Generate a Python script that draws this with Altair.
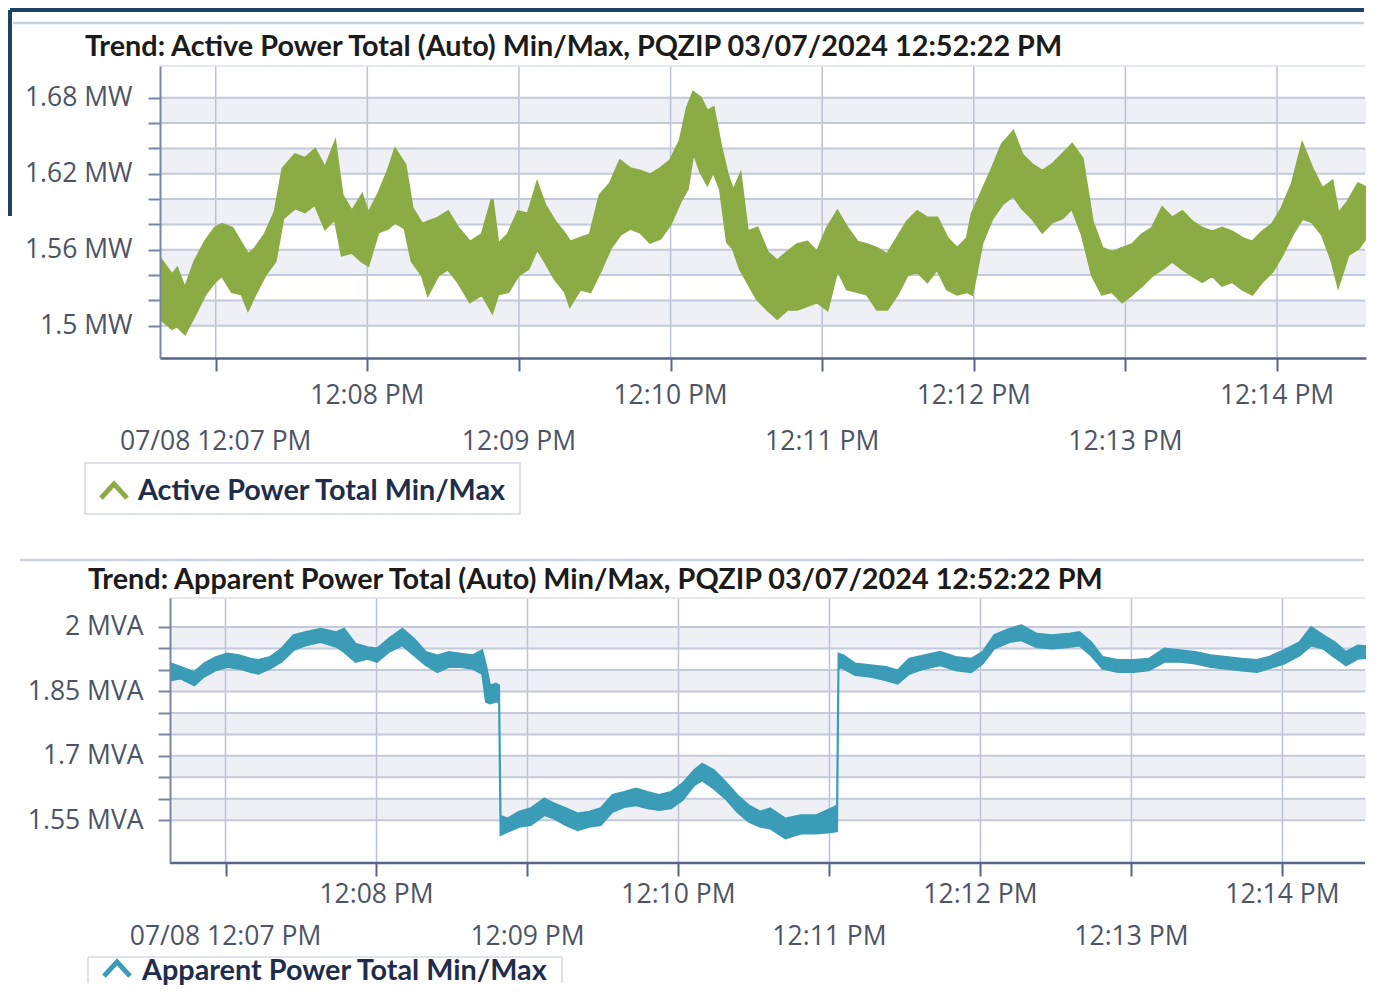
import altair as alt
import pandas as pd

# ------------------------------------------------------------------ texts
TITLE_TOP = "Trend: Active Power Total (Auto) Min/Max, PQZIP 03/07/2024 12:52:22 PM"
TITLE_BOT = "Trend: Apparent Power Total (Auto) Min/Max, PQZIP 03/07/2024 12:52:22 PM"
LEGEND_TOP = "Active Power Total Min/Max"
LEGEND_BOT = "Apparent Power Total Min/Max"

# ------------------------------------------------------------------ x ticks (seconds after 12:07:00 PM)
tick_secs = [0, 60, 120, 180, 240, 300, 360, 420]
tick_labels = ["07/08 12:07 PM", "12:08 PM", "12:09 PM", "12:10 PM",
               "12:11 PM", "12:12 PM", "12:13 PM", "12:14 PM"]
tick_rows = ["lower", "upper", "lower", "upper", "lower", "upper", "lower", "upper"]

# ------------------------------------------------------------------ active power (MW), min/max envelope
top_t = [-22.0, -17.3, -15.3, -12.2, -8.2, -4.2, -0.3, 2.5, 6.5, 10.4,
         12.8, 15.6, 19.5, 23.5, 26.6, 31.4, 35.3, 39.3, 43.3, 47.2,
         50.0, 53.9, 57.9, 60.3, 64.2, 68.2, 71.0, 74.9, 77.7, 81.7,
         84.0, 88.0, 91.9, 95.9, 100.6, 105.4, 109.4, 111.7, 115.7, 119.7,
         123.6, 127.2, 130.3, 134.3, 138.3, 140.2, 144.2, 148.2, 152.1, 156.1,
         160.0, 164.0, 168.0, 171.9, 175.9, 179.8, 183.8, 186.6, 189.0, 191.8,
         194.5, 196.9, 199.7, 202.5, 204.8, 207.6, 210.4, 214.3, 218.3, 222.2,
         226.2, 230.1, 234.1, 238.0, 242.0, 246.0, 249.9, 253.9, 257.8, 261.8,
         265.7, 269.7, 273.6, 277.6, 281.6, 285.5, 289.5, 293.4, 297.4, 299.3,
         303.3, 307.3, 311.2, 315.6, 319.1, 323.1, 327.1, 331.0, 335.0, 338.9,
         342.9, 346.9, 350.8, 354.8, 358.7, 362.7, 366.6, 370.6, 374.6, 378.5,
         382.5, 386.4, 390.4, 394.3, 398.3, 402.3, 406.2, 410.2, 414.1, 418.1,
         422.0, 426.0, 430.0, 433.9, 437.9, 441.8, 444.2, 448.1, 452.1, 456.1,
         459.2]
top_max = [1.553, 1.540, 1.545, 1.529, 1.551, 1.566, 1.577, 1.580, 1.577, 1.564,
           1.556, 1.561, 1.572, 1.590, 1.624, 1.635, 1.632, 1.639, 1.624, 1.644,
           1.603, 1.590, 1.603, 1.588, 1.603, 1.622, 1.639, 1.627, 1.593, 1.580,
           1.582, 1.585, 1.590, 1.577, 1.566, 1.572, 1.600, 1.564, 1.572, 1.590,
           1.588, 1.612, 1.595, 1.582, 1.572, 1.566, 1.569, 1.572, 1.603, 1.612,
           1.630, 1.624, 1.622, 1.619, 1.624, 1.630, 1.646, 1.672, 1.684, 1.680,
           1.669, 1.672, 1.643, 1.619, 1.606, 1.619, 1.574, 1.577, 1.558, 1.551,
           1.558, 1.564, 1.566, 1.558, 1.577, 1.590, 1.577, 1.566, 1.564, 1.561,
           1.556, 1.569, 1.582, 1.590, 1.585, 1.585, 1.569, 1.561, 1.569, 1.588,
           1.606, 1.624, 1.643, 1.653, 1.635, 1.627, 1.622, 1.627, 1.635, 1.643,
           1.632, 1.582, 1.561, 1.558, 1.561, 1.564, 1.572, 1.577, 1.593, 1.585,
           1.590, 1.582, 1.577, 1.574, 1.577, 1.574, 1.569, 1.566, 1.574, 1.580,
           1.593, 1.612, 1.643, 1.624, 1.608, 1.614, 1.588, 1.598, 1.612, 1.608,
           1.616]
top_min = [1.506, 1.498, 1.500, 1.494, 1.509, 1.525, 1.535, 1.540, 1.527, 1.525,
           1.513, 1.525, 1.540, 1.551, 1.585, 1.593, 1.590, 1.596, 1.577, 1.585,
           1.556, 1.558, 1.551, 1.548, 1.574, 1.577, 1.582, 1.577, 1.551, 1.540,
           1.525, 1.540, 1.545, 1.535, 1.519, 1.525, 1.511, 1.525, 1.527, 1.540,
           1.545, 1.561, 1.551, 1.537, 1.527, 1.516, 1.529, 1.527, 1.543, 1.561,
           1.572, 1.577, 1.574, 1.566, 1.569, 1.580, 1.598, 1.608, 1.638, 1.622,
           1.612, 1.622, 1.608, 1.566, 1.561, 1.545, 1.535, 1.521, 1.513, 1.506,
           1.513, 1.513, 1.516, 1.519, 1.513, 1.545, 1.529, 1.527, 1.525, 1.513,
           1.513, 1.525, 1.540, 1.543, 1.535, 1.545, 1.529, 1.525, 1.527, 1.525,
           1.566, 1.585, 1.596, 1.603, 1.593, 1.585, 1.574, 1.582, 1.585, 1.593,
           1.572, 1.540, 1.525, 1.527, 1.519, 1.525, 1.532, 1.540, 1.545, 1.551,
           1.545, 1.540, 1.535, 1.540, 1.532, 1.535, 1.529, 1.525, 1.535, 1.543,
           1.556, 1.572, 1.585, 1.582, 1.572, 1.551, 1.532, 1.556, 1.561, 1.572,
           1.577]

# ------------------------------------------------------------------ apparent power (MVA), min/max envelope
bot_t = [-21.7, -17.8, -12.4, -8.6, -3.9, 0.7, 5.3, 10.0, 13.1, 17.7,
         22.3, 27.0, 31.6, 37.8, 44.0, 47.1, 51.7, 56.4, 60.2, 64.9,
         70.3, 74.9, 79.6, 84.2, 88.8, 93.5, 98.1, 102.0, 103.5, 105.1,
         107.4, 108.7, 109.3, 112.0, 116.7, 121.3, 126.7, 130.6, 135.2, 139.9,
         144.5, 149.1, 153.8, 158.4, 163.1, 167.7, 172.3, 177.0, 181.6, 186.3,
         189.4, 194.0, 198.6, 203.3, 207.9, 212.5, 216.4, 222.5, 228.7, 234.8,
         240.9, 243.0, 243.6, 245.6, 250.2, 256.3, 262.5, 267.1, 271.7, 277.8,
         284.0, 290.1, 296.3, 300.9, 305.5, 311.6, 316.3, 322.4, 328.5, 334.7,
         339.3, 343.9, 348.5, 354.6, 360.8, 366.9, 373.1, 379.2, 385.4, 391.5,
         397.6, 403.8, 409.9, 414.5, 420.7, 426.8, 431.4, 436.1, 440.7, 445.3,
         449.9, 456.3]
bot_max = [1.915, 1.907, 1.895, 1.915, 1.930, 1.938, 1.934, 1.926, 1.923, 1.930,
           1.950, 1.981, 1.988, 1.996, 1.988, 1.996, 1.961, 1.953, 1.950, 1.973,
           1.996, 1.973, 1.942, 1.934, 1.942, 1.938, 1.934, 1.946, 1.911, 1.864,
           1.868, 1.864, 1.561, 1.554, 1.570, 1.578, 1.601, 1.589, 1.578, 1.566,
           1.570, 1.578, 1.609, 1.616, 1.624, 1.616, 1.609, 1.616, 1.636, 1.667,
           1.682, 1.667, 1.640, 1.609, 1.585, 1.570, 1.578, 1.554, 1.562, 1.562,
           1.578, 1.585, 1.938, 1.934, 1.915, 1.911, 1.907, 1.899, 1.926, 1.934,
           1.942, 1.930, 1.926, 1.942, 1.981, 1.996, 2.004, 1.984, 1.981, 1.984,
           1.988, 1.965, 1.930, 1.923, 1.923, 1.926, 1.950, 1.946, 1.942, 1.934,
           1.930, 1.926, 1.923, 1.930, 1.946, 1.965, 2.000, 1.981, 1.965, 1.942,
           1.957, 1.953]
bot_min = [1.876, 1.880, 1.864, 1.884, 1.899, 1.907, 1.903, 1.895, 1.891, 1.903,
           1.919, 1.946, 1.957, 1.965, 1.954, 1.942, 1.919, 1.926, 1.919, 1.942,
           1.957, 1.934, 1.911, 1.895, 1.907, 1.907, 1.903, 1.891, 1.826, 1.822,
           1.826, 1.826, 1.516, 1.523, 1.535, 1.539, 1.562, 1.554, 1.539, 1.527,
           1.535, 1.539, 1.570, 1.581, 1.585, 1.578, 1.574, 1.578, 1.597, 1.632,
           1.643, 1.624, 1.601, 1.570, 1.547, 1.535, 1.531, 1.508, 1.519, 1.519,
           1.523, 1.525, 1.907, 1.903, 1.888, 1.884, 1.876, 1.868, 1.891, 1.903,
           1.911, 1.899, 1.895, 1.915, 1.950, 1.965, 1.969, 1.953, 1.950, 1.953,
           1.957, 1.934, 1.903, 1.895, 1.895, 1.899, 1.919, 1.919, 1.915, 1.907,
           1.903, 1.899, 1.895, 1.903, 1.915, 1.934, 1.957, 1.950, 1.930, 1.911,
           1.926, 1.930]

# ------------------------------------------------------------------ y grid / labels
top_grid = [1.50, 1.52, 1.54, 1.56, 1.58, 1.60, 1.62, 1.64, 1.66, 1.68]
top_band_lo = [1.50, 1.54, 1.58, 1.62, 1.66]
top_band_hi = [1.52, 1.56, 1.60, 1.64, 1.68]
top_major = [1.5, 1.56, 1.62, 1.68]
top_major_lbl = ["1.5 MW", "1.56 MW", "1.62 MW", "1.68 MW"]
top_ydom = [1.4746, 1.705]

bot_grid = [1.55, 1.60, 1.65, 1.70, 1.75, 1.80, 1.85, 1.90, 1.95, 2.00]
bot_band_lo = [1.55, 1.65, 1.75, 1.85, 1.95]
bot_band_hi = [1.60, 1.70, 1.80, 1.90, 2.00]
bot_major = [1.55, 1.7, 1.85, 2.0]
bot_major_lbl = ["1.55 MVA", "1.7 MVA", "1.85 MVA", "2 MVA"]
bot_ydom = [1.4506, 2.0675]

assert len(top_t) == len(top_max) == len(top_min)
assert len(bot_t) == len(bot_max) == len(bot_min)

# ------------------------------------------------------------------ style
W = 1206
GREEN = "#8bac44"
TEAL = "#3a9cb6"
AX = "#55668a"
TICK = "#7886a4"
GRID = "#c3cadb"
VGRID = "#b9c2d6"
BAND = "#eef0f6"
LBL = "#4d5464"
LBL_FONT = "Open Sans"
LBL_SIZE = 26.5
BOLD_FONT = "Lato"
BOLD_SIZE = 28.8
NAVY = "#1c4365"
SEP = "#c9d1df"
CHEV = "M -1 0.55 L 0 -0.55 L 1 0.55"


def label_expr(vals, lbls):
    s = "''"
    for v, l in zip(vals, lbls):
        s = f"datum.value == {v} ? '{l}' : " + s
    return s


def panel(t, vmax, vmin, grid, blo, bhi, major, major_lbl, ydom, xdom,
          color, title, legend, H, L):
    xs = alt.Scale(domain=xdom, nice=False, zero=False)
    ys = alt.Scale(domain=ydom, nice=False, zero=False)
    xax = alt.Axis(values=tick_secs, labels=False, title=None, grid=False,
                   tickSize=13, tickWidth=2, tickColor=AX,
                   domain=L["xdomain"], domainColor=AX, domainWidth=2.5, zindex=1)
    yax = alt.Axis(values=grid, labelExpr=label_expr(major, major_lbl), title=None,
                   grid=False, tickSize=12, tickWidth=2, tickColor=TICK,
                   domainColor=TICK, domainWidth=2, labelFont=LBL_FONT,
                   labelFontSize=LBL_SIZE, labelColor=LBL, labelPadding=L["lpad"],
                   labelOverlap=False, labelFlush=False, offset=L["yoff"], zindex=1)
    X = lambda f: alt.X(f, scale=xs, axis=xax)
    Y = lambda f: alt.Y(f, scale=ys, axis=yax)

    x0 = L["x0"]
    series = pd.DataFrame({"t": t, "hi": vmax, "lo": vmin})
    bands = pd.DataFrame({"lo": blo, "hi": bhi})
    grid_df = pd.DataFrame({"v": grid})
    ticks = pd.DataFrame({"t": tick_secs, "label": tick_labels, "row": tick_rows})
    one = pd.DataFrame({"k": [0]})

    layers = []
    if L.get("navy"):
        layers.append(alt.Chart(one).mark_rule(color=NAVY, strokeWidth=4).encode(
            x=alt.value(-150), x2=alt.value(W - 2), y=alt.value(L["navy_y"])))
        layers.append(alt.Chart(one).mark_rule(color=NAVY, strokeWidth=4).encode(
            x=alt.value(-150), y=alt.value(L["navy_y"]), y2=alt.value(150)))
    # separator line above the panel
    layers.append(alt.Chart(one).mark_rule(color=SEP, strokeWidth=2.5).encode(
        x=alt.value(L["sep_x"]), x2=alt.value(W - 2), y=alt.value(L["sep_y"])))
    # title
    layers.append(alt.Chart(one).mark_text(
        text=title, font=BOLD_FONT, fontWeight="bold", fontSize=BOLD_SIZE, color="#1b1b1b",
        align="left", baseline="middle").encode(
        x=alt.value(L["tx"]), y=alt.value(L["ty"])))
    # shaded bands
    layers.append(alt.Chart(bands).mark_rect(color=BAND).encode(
        x=alt.value(x0), x2=alt.value(W), y=Y("lo:Q"), y2="hi:Q"))
    # vertical grid
    layers.append(alt.Chart(ticks).mark_rule(color=VGRID, strokeWidth=1.5).encode(
        x=X("t:Q"), y=alt.value(0), y2=alt.value(H)))
    # horizontal grid
    layers.append(alt.Chart(grid_df).mark_rule(color=GRID, strokeWidth=2).encode(
        y=Y("v:Q"), x=alt.value(x0), x2=alt.value(W - 1)))
    # top border of the plot
    layers.append(alt.Chart(one).mark_rule(color="#dde2ea", strokeWidth=1.5).encode(
        x=alt.value(x0), x2=alt.value(W - 1), y=alt.value(0)))
    # min/max envelope
    layers.append(alt.Chart(series).mark_area(
        color=color, stroke=color, strokeWidth=L["sw"], clip=True).encode(
        x=X("t:Q"), y=Y("hi:Q"), y2="lo:Q"))
    if not L["xdomain"]:
        layers.append(alt.Chart(one).mark_rule(color=AX, strokeWidth=2.5).encode(
            x=alt.value(x0), x2=alt.value(W - 1), y=alt.value(H)))
    # two rows of time labels
    for row, dy in (("upper", L["up"]), ("lower", L["low"])):
        layers.append(alt.Chart(ticks).transform_filter(alt.datum.row == row).mark_text(
            font=LBL_FONT, fontSize=LBL_SIZE, color=LBL, align="center",
            baseline="middle").encode(
            x=X("t:Q"), y=alt.value(H + dy), text="label:N"))
    # legend box
    lx1, lx2, ly1, ly2 = L["box"]
    if L["box_closed"]:
        layers.append(alt.Chart(one).mark_rect(fill="white", stroke="#d3d8e2", strokeWidth=1.5).encode(
            x=alt.value(lx1), x2=alt.value(lx2), y=alt.value(ly1), y2=alt.value(ly2)))
    else:
        layers.append(alt.Chart(one).mark_rule(color="#d3d8e2", strokeWidth=1.5).encode(
            x=alt.value(lx1), x2=alt.value(lx2), y=alt.value(ly1)))
        layers.append(alt.Chart(one).mark_rule(color="#d3d8e2", strokeWidth=1.5).encode(
            x=alt.value(lx1), y=alt.value(ly1), y2=alt.value(ly2)))
        layers.append(alt.Chart(one).mark_rule(color="#d3d8e2", strokeWidth=1.5).encode(
            x=alt.value(lx2), y=alt.value(ly1), y2=alt.value(ly2)))
    layers.append(alt.Chart(one).mark_point(
        shape=CHEV, filled=False, color=color, strokeWidth=5, size=676, opacity=1,
        strokeJoin="miter").encode(x=alt.value(L["cx"]), y=alt.value(L["cy"])))
    layers.append(alt.Chart(one).mark_text(
        text=legend, font=BOLD_FONT, fontWeight="bold", fontSize=BOLD_SIZE, color="#1f2d4d",
        align="left", baseline="middle").encode(
        x=alt.value(L["lx"]), y=alt.value(L["ly"])))

    return alt.layer(*layers).properties(width=W, height=H)


top = panel(top_t, top_max, top_min, top_grid, top_band_lo, top_band_hi,
            top_major, top_major_lbl, top_ydom, [-22.05, 455.2], GREEN,
            TITLE_TOP, LEGEND_TOP, 292,
            dict(x0=0, navy=True, navy_y=-56, sep_x=-147, sep_y=-43, tx=-75, ty=-19,
                 xdomain=True, yoff=0, up=37.5, low=84, sw=3, lpad=16,
                 box=(-75, 360, 397, 448), box_closed=True,
                 cx=-46, cy=425, lx=-22, ly=425))

bot = panel(bot_t, bot_max, bot_min, bot_grid, bot_band_lo, bot_band_hi,
            bot_major, bot_major_lbl, bot_ydom, [-26.03, 453.2], TEAL,
            TITLE_BOT, LEGEND_BOT, 265,
            dict(x0=10, navy=False, sep_x=-140, sep_y=-38, tx=-72, ty=-18,
                 xdomain=False, yoff=-10, up=32, low=73.5, sw=2, lpad=15,
                 box=(-72, 402, 359, 385), box_closed=False,
                 cx=-43, cy=371, lx=-18, ly=373))

chart = alt.vconcat(top, bot, spacing=43).properties(
    padding=0, background="white").configure_view(stroke=None)

chart.save("out.html", embed_options={"renderer": "svg", "actions": False})
